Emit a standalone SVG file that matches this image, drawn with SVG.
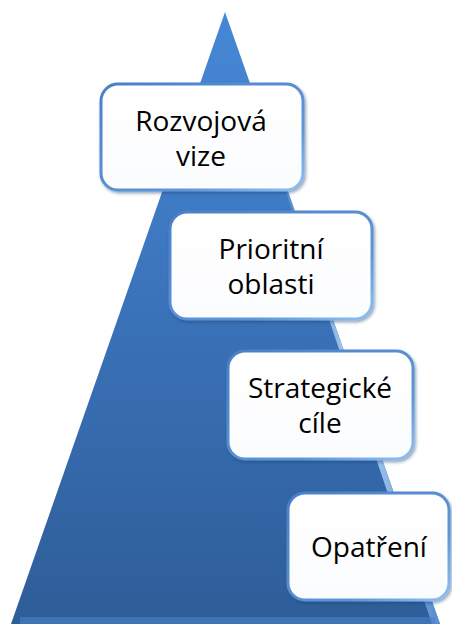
<svg xmlns="http://www.w3.org/2000/svg" width="452" height="624" viewBox="0 0 452 624">
<defs>
<linearGradient id="tri" x1="0" y1="0" x2="0" y2="1">
<stop offset="0" stop-color="#4688d6"/>
<stop offset="0.5" stop-color="#3a72b8"/>
<stop offset="1" stop-color="#2e5d98"/>
</linearGradient>
<linearGradient id="edge" x1="0" y1="0" x2="1" y2="0">
<stop offset="0" stop-color="#3d7bc6" stop-opacity="0"/>
<stop offset="0.6" stop-color="#c9e3ff"/>
<stop offset="1" stop-color="#5b95dc"/>
</linearGradient>
<linearGradient id="bstroke" x1="0" y1="0" x2="1" y2="1">
<stop offset="0" stop-color="#4a80c8"/>
<stop offset="0.7" stop-color="#5f95d8"/>
<stop offset="1" stop-color="#8fc0f0"/>
</linearGradient>
<linearGradient id="bfill" x1="0" y1="0" x2="0" y2="1">
<stop offset="0" stop-color="#ffffff"/>
<stop offset="1" stop-color="#fbfcfe"/>
</linearGradient>
<filter id="sh" x="-10%" y="-10%" width="125%" height="130%">
<feDropShadow dx="1.5" dy="2" stdDeviation="1.5" flood-color="#1e3f6e" flood-opacity="0.45"/>
</filter>
</defs>
<style>
.box{fill:url(#bfill);stroke:url(#bstroke);stroke-width:3;filter:url(#sh)}
.t{font-family:"Open Sans","Liberation Sans",sans-serif;font-size:28px;fill:#000;text-anchor:middle}
</style>
<g id="pyramid">
<polygon points="225,12 11,624 440,624" fill="url(#tri)"/>
<polygon points="225,12 231,30 440,624 432,624" fill="url(#edge)" opacity="0.85"/>
<rect x="20" y="617" width="415" height="7" fill="#4a82c6" opacity="0.6"/>
</g>
<g id="node1">
<rect class="box" x="101" y="84" width="202" height="106" rx="17"/>
<text class="t" x="201" y="131">Rozvojová</text>
<text class="t" x="201" y="166">vize</text>
</g>
<g id="node2">
<rect class="box" x="170" y="212" width="202" height="107" rx="17"/>
<text class="t" x="271" y="259">Prioritní</text>
<text class="t" x="271" y="294">oblasti</text>
</g>
<g id="node3">
<rect class="box" x="228" y="351" width="185" height="108" rx="17"/>
<text class="t" x="320" y="398">Strategické</text>
<text class="t" x="320" y="433">cíle</text>
</g>
<g id="node4">
<rect class="box" x="288" y="493" width="161" height="107" rx="17"/>
<text class="t" x="369" y="557">Opatření</text>
</g>
</svg>
